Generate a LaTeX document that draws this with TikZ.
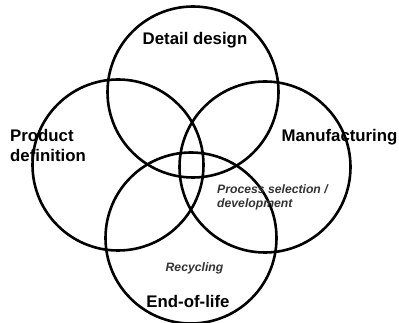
\documentclass[tikz,border=0pt]{standalone}
\usepackage{fontspec}
\setmainfont{Liberation Sans}
\begin{document}
\begin{tikzpicture}[x=1pt,y=-1pt,
  ring/.style={circle,draw=black,line width=2.6pt,minimum size=171pt,inner sep=0pt},
  big/.style={font=\fontsize{16.8}{20}\selectfont\bfseries,inner sep=0pt},
  small/.style={font=\fontsize{12.2}{13.5}\selectfont\bfseries\itshape,text=black!80,inner sep=0pt}]
\useasboundingbox[fill=white] (0,0) rectangle (399,323);
\node[ring] (dd) at (193,92) {};
\node[ring] (pd) at (118,165) {};
\node[ring] (mf) at (265,167) {};
\node[ring] (el) at (191,238) {};
\node[big,anchor=base] (tdd) at (195,45) {Detail design};
\node[big,align=left,anchor=base west] (tpd) at (10,162) {Product\\definition};
\node[big,anchor=base west] (tmf) at (281.5,141.7) {Manufacturing};
\node[big,anchor=base] (tel) at (188,307) {End-of-life};
\node[small,align=left,anchor=base west] (tps) at (217,207.5) {Process selection /\\development};
\node[small,anchor=base] (trc) at (194.5,271) {Recycling};
\end{tikzpicture}
\end{document}
